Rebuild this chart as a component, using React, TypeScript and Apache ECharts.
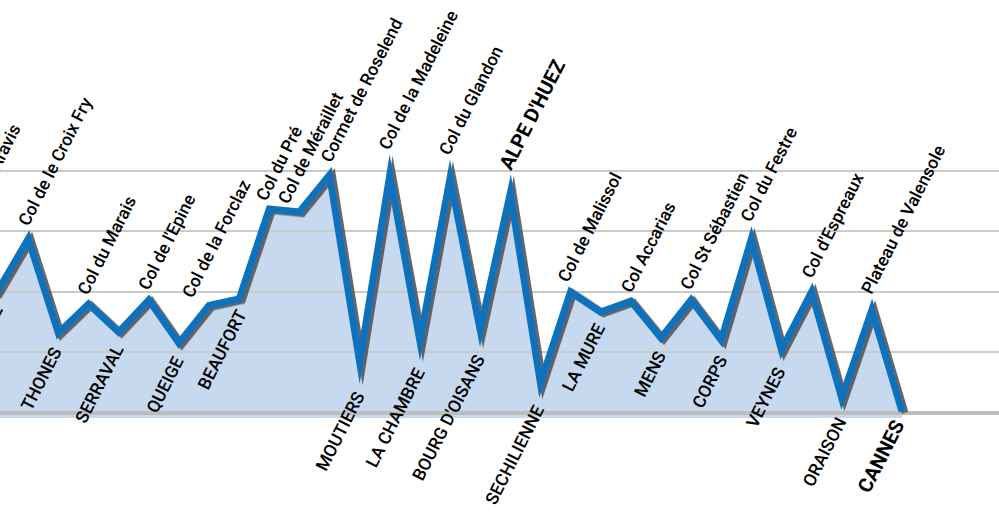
import React, { useEffect, useRef } from "react";
import * as echarts from "echarts";

// Stage profile: places along the route, their kind and elevation (m)
const places = [
  "Col des Aravis", "LA CLUSAZ", "Col de le Croix Fry", "THONES", "Col du Marais",
  "SERRAVAL", "Col de l'Epine", "QUEIGE", "Col de la Forclaz", "BEAUFORT",
  "Col du Pré", "Col de Méraillet", "Cormet de Roselend", "MOUTIERS", "Col de la Madeleine",
  "LA CHAMBRE", "Col du Glandon", "BOURG D'OISANS", "ALPE D'HUEZ", "SECHILIENNE",
  "Col de Malissol", "LA MURE", "Col Accarias", "MENS", "Col St Sébastien",
  "CORPS", "Col du Festre", "VEYNES", "Col d'Espreaux", "ORAISON",
  "Plateau de Valensole", "CANNES",
];
const kinds = [
  "col", "town", "col", "town", "col",
  "town", "col", "town", "col", "town",
  "col", "col", "col", "town", "col",
  "town", "col", "town", "col", "town",
  "col", "town", "col", "town", "col",
  "town", "col", "town", "col", "town",
  "col", "town",
];
const elevations = [
  1490, 1010, 1435, 657, 897,
  665, 930, 574, 885, 938,
  1682, 1657, 1963, 417, 1963,
  591, 1938, 682, 1814, 244,
  996, 831, 921, 616, 930,
  599, 1434, 517, 996, 120,
  847, 10,
];
const finishes = ["ALPE D'HUEZ", "CANNES"];
const gridLevels = [0, 500, 1000, 1500, 2000];

// layout constants
const W = 999;
const H = 516;
const X_MIN = 1.062;
const X_MAX = 34.22;
const Y_MIN = -45;
const Y_MAX = 3409;
const GRID_BOTTOM = 98;
const LINE_W = 7;
const ROT = 63;
// horizontal nudge (px) for labels that would otherwise collide
const LABEL_NUDGE: Record<string, number> = {
  "Col de la Forclaz": -14,
  "Col de Méraillet": -9,
};

function toPx(i: number, v: number): [number, number] {
  return [
    ((i - X_MIN) * W) / (X_MAX - X_MIN),
    ((Y_MAX - v) * (H - GRID_BOTTOM)) / (Y_MAX - Y_MIN),
  ];
}

// point on the stroke edge (upper side = -1, lower side = +1) at a join
function edgePoint(i: number, side: number): [number, number] {
  const n = elevations.length;
  const p = toPx(i, elevations[i]);
  const lines: { px: number; py: number; dx: number; dy: number }[] = [];
  for (const j of [i - 1, i + 1]) {
    if (j < 0 || j >= n) continue;
    const q = toPx(j, elevations[j]);
    let dx = q[0] - p[0];
    let dy = q[1] - p[1];
    const len = Math.hypot(dx, dy);
    dx /= len;
    dy /= len;
    let nx = -dy;
    let ny = dx;
    if (ny * side < 0) {
      nx = -nx;
      ny = -ny;
    }
    lines.push({ px: p[0] + (nx * LINE_W) / 2, py: p[1] + (ny * LINE_W) / 2, dx, dy });
  }
  if (lines.length === 1) return [lines[0].px, lines[0].py];
  const a = lines[0];
  const b = lines[1];
  const den = a.dx * b.dy - a.dy * b.dx;
  if (Math.abs(den) < 1e-6) return [a.px, a.py];
  const t = ((b.px - a.px) * b.dy - (b.py - a.py) * b.dx) / den;
  return [a.px + a.dx * t, a.py + a.dy * t];
}

export default function App() {
  const ref = useRef<HTMLDivElement>(null);

  useEffect(() => {
    document.body.style.margin = "0";
    if (!ref.current) return;
    const chart = echarts.init(ref.current, undefined, { renderer: "svg" });

    const pts = elevations.map((v, i) => [i, v]);
    const labelled = elevations.map((v, i) => {
      const isCol = kinds[i] === "col";
      const isFinish = finishes.includes(places[i]);
      const p = toPx(i, v);
      const e = edgePoint(i, isCol ? -1 : 1);
      const nudge = LABEL_NUDGE[places[i]] || 0;
      const ox = e[0] - p[0] + (isCol ? -6 : 0) + nudge;
      const oy = e[1] - p[1] + (isCol ? -6 : 9);
      return {
        value: [i, v],
        name: places[i],
        label: {
          position: [0.5 + ox, 0.5 + oy],
          align: isCol ? "left" : "right",
          verticalAlign: "middle",
          fontWeight: isFinish ? "bold" : 500,
          fontSize: isFinish ? 20 : 17.5,
        },
      };
    });

    chart.setOption({
      animation: false,
      grid: { left: 0, right: 0, top: 0, bottom: GRID_BOTTOM, containLabel: false },
      xAxis: {
        type: "value",
        min: X_MIN,
        max: X_MAX,
        show: false,
        splitLine: { show: false },
      },
      yAxis: {
        type: "value",
        min: Y_MIN,
        max: Y_MAX,
        show: false,
        splitLine: { show: false },
      },
      series: [
        {
          type: "line",
          z: 1,
          silent: true,
          clip: false,
          data: pts,
          symbol: "none",
          lineStyle: { width: 0 },
          areaStyle: { color: "#c6d9ee", opacity: 1, origin: "start" },
        },
        {
          type: "line",
          z: 2,
          silent: true,
          clip: false,
          data: pts,
          symbol: "none",
          lineStyle: { width: 0, opacity: 0 },
          markLine: {
            z: 2,
            silent: true,
            symbol: ["none", "none"],
            label: { show: false },
            animation: false,
            data: gridLevels.map((v) => ({
              yAxis: v,
              lineStyle: {
                type: "solid",
                color: v === 0 ? "#bdbdbd" : "#cacaca",
                width: v === 0 ? 4 : 2,
              },
            })),
          },
        },
        {
          type: "line",
          z: 3,
          silent: true,
          clip: false,
          data: labelled,
          symbol: "circle",
          symbolSize: 1,
          showSymbol: true,
          showAllSymbol: true,
          itemStyle: { color: "#0a72bb" },
          lineStyle: {
            color: "#0a72bb",
            width: LINE_W,
            join: "miter",
            miterLimit: 12,
            shadowColor: "rgba(85,85,85,0.9)",
            shadowBlur: 0,
            shadowOffsetX: 3,
            shadowOffsetY: 1.5,
          },
          label: {
            show: true,
            formatter: "{b}",
            rotate: ROT,
            color: "#000000",
            fontSize: 17.5,
            fontFamily: "Roboto, 'Liberation Sans', sans-serif",
          },
          emphasis: { disabled: true },
        },
      ],
    });

    return () => chart.dispose();
  }, []);

  return (
    <div
      ref={ref}
      style={{ position: "absolute", left: 0, top: 0, width: W, height: H }}
    />
  );
}
